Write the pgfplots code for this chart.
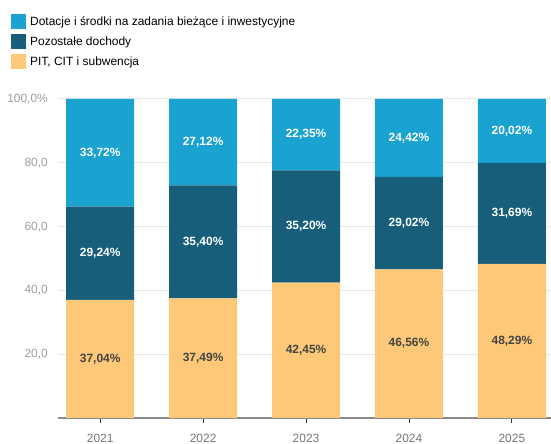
\documentclass[border=0pt]{standalone}
\usepackage{fontspec}
\setmainfont{Liberation Sans}
\usepackage{pgfplots}
\pgfplotsset{compat=1.18}
\definecolor{cBlue}{HTML}{1AA2D0}
\definecolor{cTeal}{HTML}{165E7A}
\definecolor{cOrange}{HTML}{FDC878}
\definecolor{cGrid}{HTML}{E8E8E8}
\definecolor{cTick}{HTML}{9E9E9E}
\definecolor{cXTick}{HTML}{757575}
\definecolor{cAxis}{HTML}{8A8A8A}
\definecolor{cDark}{HTML}{444444}
\pgfplotsset{base/.style={
  at={(58bp,26bp)}, anchor=south west, scale only axis,
  width=493bp, height=319bp,
  xmin=-0.41, xmax=4.38, ymin=0, ymax=100, enlargelimits=false}}
\begin{document}
\begin{tikzpicture}
\useasboundingbox (0,0) rectangle (551bp,444bp);
\begin{axis}[base, ybar stacked, bar width=68bp,
  xtick={0,1,2,3,4}, xticklabels={2021,2022,2023,2024,2025},
  ytick={20,40,60,80,100},
  yticklabels={{20,0},{40,0},{60,0},{80,0},{100,0\%}},
  ymajorgrids, grid style={cGrid, line width=1bp},
  separate axis lines,
  axis x line*=bottom, axis y line*=left,
  x axis line style={cAxis, line width=1.5bp, -},
  y axis line style={draw=none},
  xtick pos=bottom, ytick pos=left,
  tick align=outside,
  major tick length=5bp,
  xtick style={draw=black!80, line width=0.9bp},
  ytick style={draw=none},
  yticklabel style={font=\fontsize{12}{14}\selectfont, text=cTick, inner xsep=0pt, xshift=-5bp},
  xticklabel style={font=\fontsize{12}{14}\selectfont, text=cXTick, yshift=-8bp},
  reverse legend,
  legend cell align=left,
  legend style={at={(0,1)}, anchor=south west, xshift=-50bp, yshift=28bp,
    draw=none, fill=none, font=\fontsize{12}{14}\selectfont, row sep=5bp,
    nodes={inner sep=0pt, text height=10.6bp, text depth=2bp},
    /tikz/every odd column/.append style={column sep=4bp}},
  legend image code/.code={\fill[#1, draw=none] (0bp,-7.5bp) rectangle (15bp,7.5bp);},
]
\addplot[fill=cOrange, draw=none] coordinates {(0,37.04) (1,37.49) (2,42.45) (3,46.56) (4,48.29)};
\addplot[fill=cTeal, draw=none] coordinates {(0,29.24) (1,35.40) (2,35.20) (3,29.02) (4,31.69)};
\addplot[fill=cBlue, draw=none] coordinates {(0,33.72) (1,27.12) (2,22.35) (3,24.42) (4,20.02)};
\legend{PIT{,} CIT i subwencja, Pozostałe dochody, Dotacje i środki na zadania bieżące i inwestycyjne}
\end{axis}
\begin{axis}[base, hide axis]
\addplot[draw=none, nodes near coords, point meta=explicit symbolic,
  nodes near coords style={anchor=center, text=cDark, font=\fontsize{12}{14}\selectfont\bfseries}]
  coordinates {(0,18.52)[37,04\%] (1,18.745)[37,49\%] (2,21.225)[42,45\%] (3,23.28)[46,56\%] (4,24.145)[48,29\%]};
\addplot[draw=none, nodes near coords, point meta=explicit symbolic,
  nodes near coords style={anchor=center, text=white, font=\fontsize{12}{14}\selectfont\bfseries}]
  coordinates {(0,51.66)[29,24\%] (1,55.19)[35,40\%] (2,60.05)[35,20\%] (3,61.07)[29,02\%] (4,64.135)[31,69\%]};
\addplot[draw=none, nodes near coords, point meta=explicit symbolic,
  nodes near coords style={anchor=center, text=white, font=\fontsize{12}{14}\selectfont\bfseries}]
  coordinates {(0,83.14)[33,72\%] (1,86.45)[27,12\%] (2,88.825)[22,35\%] (3,87.79)[24,42\%] (4,89.99)[20,02\%]};
\end{axis}
\end{tikzpicture}
\end{document}
